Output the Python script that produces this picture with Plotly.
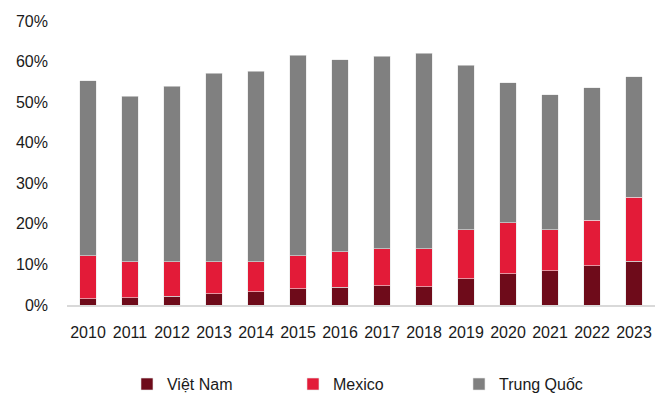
import plotly.graph_objects as go

years = ["2010", "2011", "2012", "2013", "2014", "2015", "2016", "2017", "2018", "2019", "2020", "2021", "2022", "2023"]
viet_nam = [1.6, 1.8, 2.1, 2.8, 3.3, 4.0, 4.4, 4.8, 4.5, 6.5, 7.7, 8.4, 9.7, 10.8]
mexico = [10.5, 8.9, 8.5, 7.9, 7.4, 8.1, 8.7, 9.1, 9.4, 12.0, 12.6, 10.1, 11.2, 15.8]
trung_quoc = [43.2, 40.8, 43.3, 46.4, 46.9, 49.4, 47.3, 47.4, 48.2, 40.6, 34.5, 33.3, 32.6, 29.7]

font_family = "Liberation Sans Narrow, Arial Narrow, Liberation Sans, Arial, sans-serif"

fig = go.Figure()
series = [("Việt Nam", viet_nam, "#6E0B1A"), ("Mexico", mexico, "#E31B38"), ("Trung Quốc", trung_quoc, "#808080")]
for name, vals, color in series:
    fig.add_trace(go.Bar(
        x=years, y=[v / 100 for v in vals], name=name,
        marker=dict(color=color, line=dict(color="#E6E6E6", width=0.6)),
        width=0.4,
    ))

fig.update_layout(
    barmode="stack",
    width=669, height=396,
    margin=dict(l=67, r=14, t=21, b=91, autoexpand=False),
    plot_bgcolor="white", paper_bgcolor="white",
    font=dict(family=font_family, size=16, color="#1a1a1a"),
    showlegend=True,
    legend=dict(orientation="h", x=0.102, xanchor="left", yref="container", y=0.03, yanchor="middle",
                entrywidth=121, entrywidthmode="pixels", traceorder="normal",
                font=dict(size=16), bgcolor="rgba(0,0,0,0)"),
    xaxis=dict(showline=True, linecolor="#D9D9D9", linewidth=2, ticks="", showgrid=False,
               tickfont=dict(size=16), tickangle=0, automargin=False, ticklabelstandoff=12),
    yaxis=dict(range=[0, 0.7], dtick=0.1, tickformat=".0%", showgrid=False, zeroline=False,
               showline=False, ticks="", tickfont=dict(size=16), automargin=False,
               ticklabelstandoff=18),
)

fig.write_html("out.html")
